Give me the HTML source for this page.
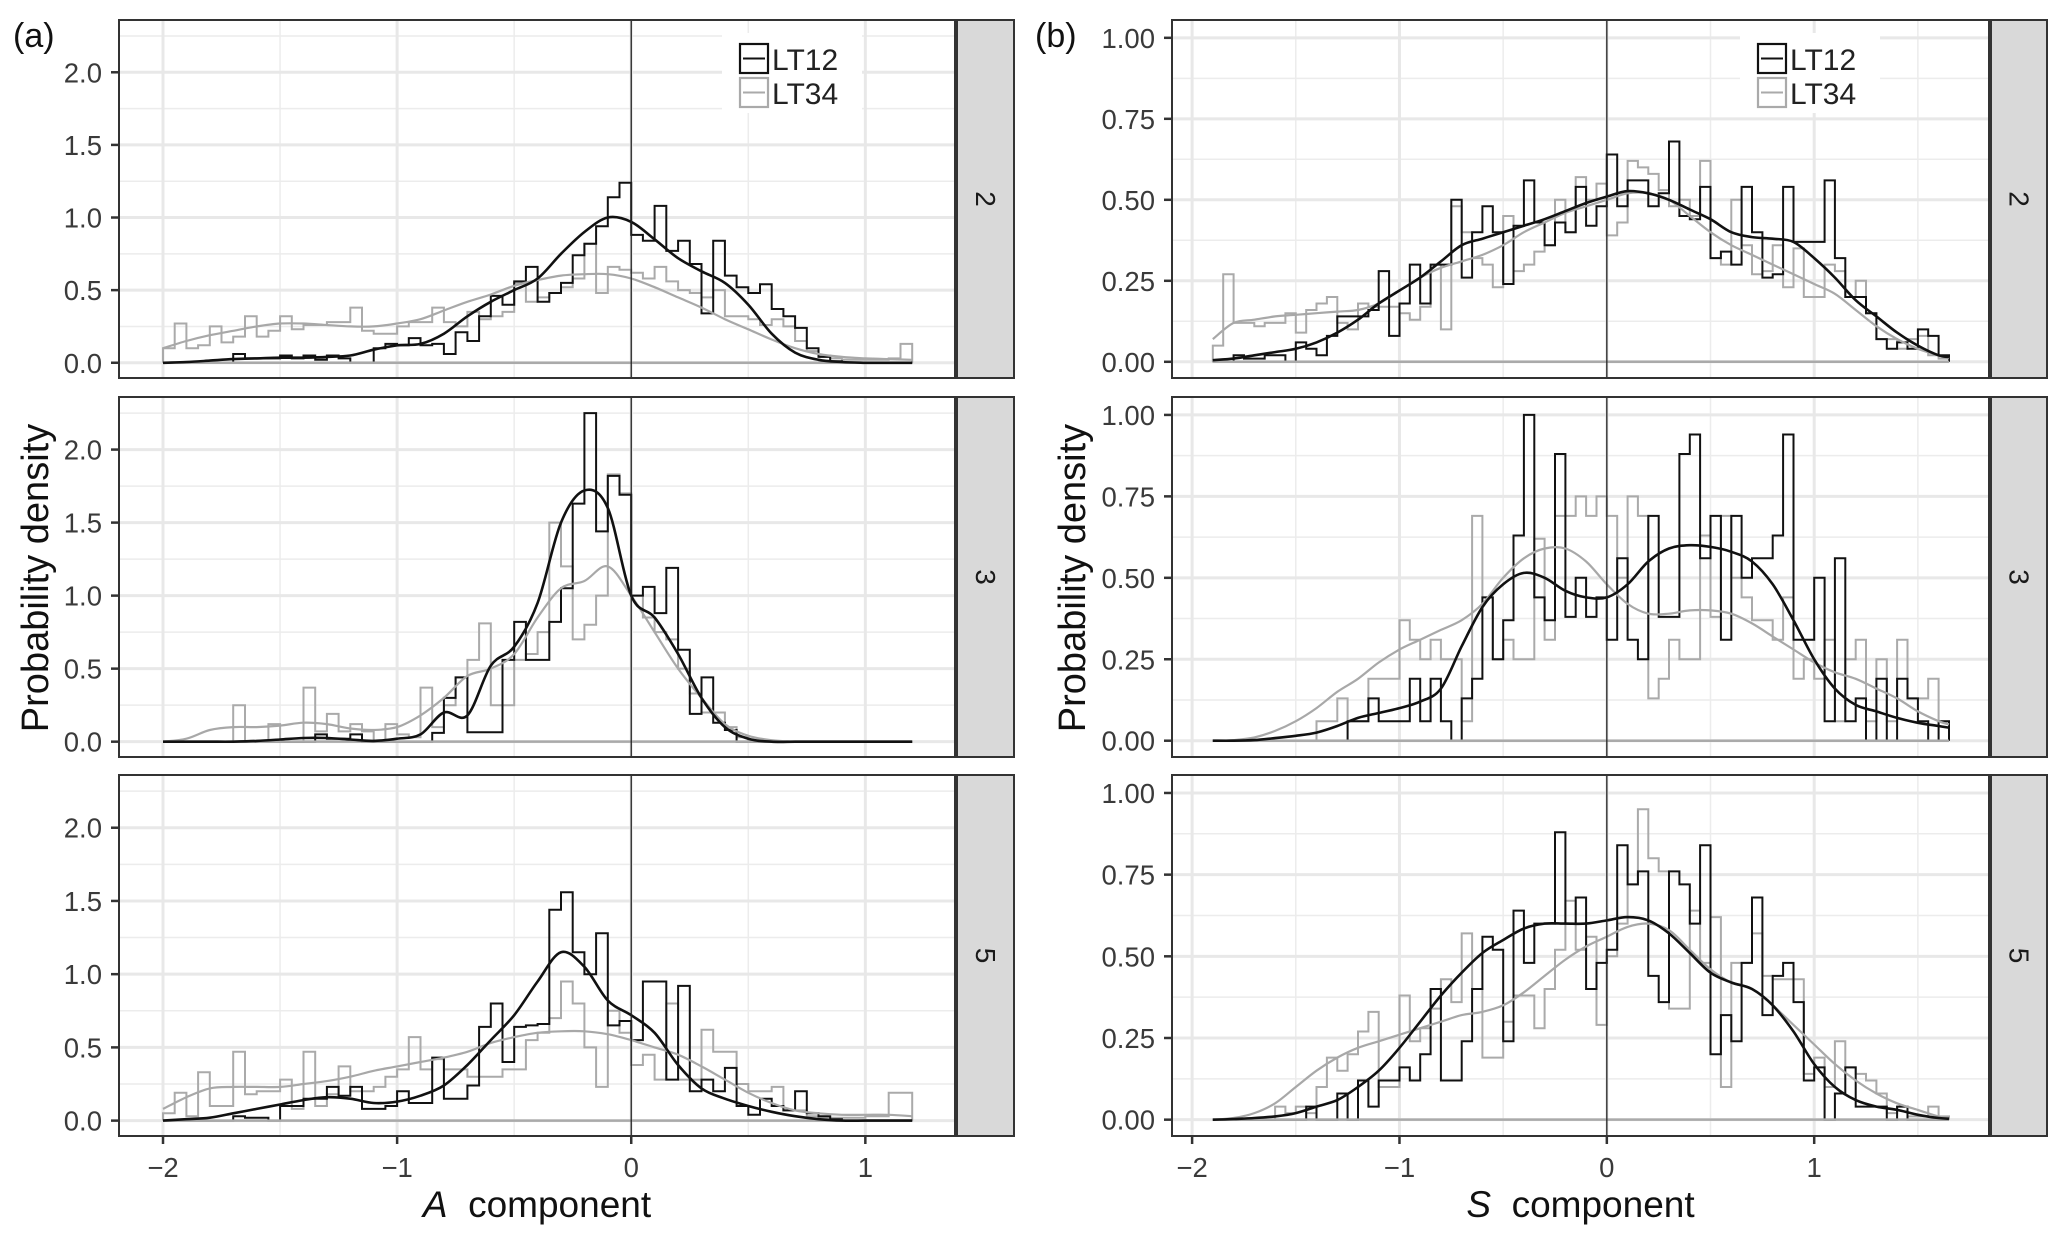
<!DOCTYPE html>
<html><head><meta charset="utf-8"><style>
body{margin:0;background:#fff}
svg{display:block;font-family:"Liberation Sans",Arial,sans-serif}
</style></head><body>
<svg id="chart" width="2067" height="1244" viewBox="0 0 2067 1244" xmlns="http://www.w3.org/2000/svg"></svg>
<script>
// ---- data ----
const aBinStart = -2.0, sBinStart = -1.9, binWidth = 0.05;
const aDensStart = -2.0, aDensStep = 0.1;
const sDensX = [-1.9,-1.8,-1.7,-1.6,-1.5,-1.4,-1.3,-1.2,-1.1,-1.0,-0.9,-0.8,-0.7,-0.6,-0.5,-0.4,-0.3,-0.2,-0.1,0,0.1,0.2,0.3,0.4,0.5,0.6,0.7,0.8,0.9,1.0,1.1,1.2,1.3,1.4,1.5,1.6,1.65];
const facetLabels = ["2","3","5"];
const leftYTicks = [0,0.5,1.0,1.5,2.0];
const leftYTickLabels = ["0.0","0.5","1.0","1.5","2.0"];
const rightYTicks = [0,0.25,0.5,0.75,1.0];
const rightYTickLabels = ["0.00","0.25","0.50","0.75","1.00"];
const xTicks = [-2,-1,0,1];
const xTickLabels = ["\u22122","\u22121","0","1"];

const a2_lt12 = [0,0,0,0,0,0,0.06,0.03,0.03,0.03,0.05,0.03,0.05,0.02,0.05,0.03,0,0,0.1,0.13,0.12,0.17,0.12,0.13,0.06,0.21,0.15,0.32,0.46,0.4,0.56,0.66,0.42,0.48,0.55,0.74,0.82,0.94,1.14,1.24,0.88,0.84,1.08,0.77,0.84,0.68,0.34,0.84,0.6,0.52,0.48,0.54,0.37,0.32,0.24,0.1,0.04,0.01,0,0,0,0,0,0];
const a2_lt34 = [0.1,0.27,0.1,0.12,0.25,0.14,0.18,0.32,0.18,0.22,0.32,0.23,0.26,0.26,0.28,0.28,0.38,0.22,0.2,0.2,0.25,0.28,0.28,0.38,0.28,0.25,0.35,0.3,0.32,0.35,0.55,0.42,0.45,0.48,0.52,0.58,0.82,0.48,0.66,0.64,0.62,0.58,0.66,0.56,0.5,0.48,0.45,0.5,0.32,0.32,0.3,0.26,0.3,0.25,0.15,0.08,0.05,0.03,0.02,0.02,0.02,0.02,0.03,0.13];
const a3_lt12 = [0,0,0,0,0,0,0,0,0,0,0,0,0,0.05,0.02,0.02,0.05,0,0,0,0,0,0,0.06,0.3,0.44,0.065,0.065,0.065,0.56,0.82,0.56,0.56,0.82,1.05,1.63,2.25,1.44,1.82,1.69,1.0,1.06,0.88,1.19,0.63,0.19,0.44,0.13,0.08,0,0,0,0,0,0,0,0,0,0,0,0,0,0,0];
const a3_lt34 = [0,0,0,0,0,0,0.25,0,0,0.12,0,0,0.37,0.07,0.19,0.07,0.12,0.07,0,0.12,0.05,0.03,0.37,0.1,0.25,0.44,0.56,0.81,0.25,0.25,0.56,0.6,0.75,1.5,1.2,0.7,0.8,1.0,1.83,1.7,1.0,0.85,0.75,0.7,0.5,0.33,0.2,0.2,0.1,0.03,0,0,0,0,0,0,0,0,0,0,0,0,0,0];
const a5_lt12 = [0,0,0,0,0,0,0.03,0.02,0.02,0,0.1,0.1,0.15,0.15,0.23,0.17,0.23,0.08,0.08,0.1,0.2,0.12,0.12,0.43,0.15,0.15,0.24,0.64,0.8,0.4,0.64,0.65,0.66,1.44,1.56,1.15,1.0,1.28,0.65,0.68,0.55,0.95,0.95,0.28,0.92,0.2,0.28,0.2,0.36,0.1,0.04,0.15,0.1,0.07,0.2,0.05,0.03,0.01,0,0,0,0,0,0];
const a5_lt34 = [0.05,0.19,0.03,0.33,0.1,0.1,0.47,0.18,0.2,0.2,0.28,0.08,0.47,0.1,0.18,0.37,0.2,0.2,0.23,0.3,0.35,0.57,0.35,0.42,0.35,0.35,0.3,0.3,0.3,0.35,0.35,0.55,0.6,0.7,0.95,0.8,0.5,0.23,0.75,0.6,0.38,0.45,0.28,0.8,0.28,0.28,0.62,0.47,0.47,0.25,0.2,0.2,0.23,0.07,0.07,0.03,0.02,0.02,0.02,0.02,0.03,0.03,0.19,0.19];

const s2_lt12 = [0,0,0.02,0.01,0.01,0.02,0.02,0,0.06,0.04,0.02,0.08,0.14,0.14,0.14,0.16,0.28,0.08,0.18,0.3,0.18,0.3,0.3,0.5,0.26,0.4,0.48,0.4,0.24,0.42,0.56,0.43,0.36,0.43,0.4,0.54,0.42,0.48,0.64,0.48,0.56,0.56,0.48,0.52,0.68,0.45,0.44,0.54,0.32,0.34,0.3,0.54,0.4,0.26,0.27,0.54,0.37,0.37,0.37,0.56,0.32,0.2,0.2,0.15,0.07,0.04,0.06,0.04,0.1,0.08,0.02];
const s2_lt34 = [0.05,0.27,0.12,0.12,0.11,0.12,0.12,0.15,0.09,0.16,0.18,0.2,0.12,0.1,0.18,0.17,0.17,0.17,0.15,0.13,0.17,0.3,0.1,0.48,0.4,0.32,0.3,0.23,0.45,0.28,0.3,0.34,0.36,0.5,0.4,0.57,0.5,0.55,0.39,0.43,0.62,0.6,0.58,0.53,0.48,0.5,0.45,0.62,0.32,0.3,0.5,0.36,0.27,0.28,0.36,0.23,0.35,0.2,0.2,0.3,0.28,0.2,0.25,0.15,0.07,0.07,0.04,0.07,0.08,0.02,0.01];
const s3_lt12 = [0,0,0,0,0,0,0,0,0,0,0,0,0,0.06,0.06,0.13,0.06,0.06,0.06,0.19,0.06,0.19,0.06,0,0.13,0.19,0.44,0.25,0.37,0.63,1.0,0.44,0.37,0.88,0.38,0.5,0.38,0.44,0.31,0.56,0.31,0.25,0.69,0.38,0.38,0.88,0.94,0.56,0.69,0.31,0.69,0.5,0.56,0.56,0.63,0.94,0.31,0.31,0.5,0.06,0.56,0.06,0.13,0,0.19,0,0.19,0.13,0.06,0,0.06];
const s3_lt34 = [0,0,0,0,0,0,0,0,0,0,0.06,0.06,0.13,0.06,0.06,0.19,0.19,0.19,0.37,0.31,0.25,0.31,0.25,0.25,0.06,0.69,0.44,0.25,0.31,0.25,0.25,0.62,0.31,0.69,0.69,0.75,0.69,0.75,0.69,0.5,0.75,0.69,0.13,0.19,0.31,0.25,0.25,0.63,0.38,0.69,0.5,0.44,0.37,0.37,0.31,0.44,0.19,0.25,0.19,0.31,0.06,0.25,0.31,0.06,0.25,0.06,0.31,0.13,0.13,0.19,0.06];
const s5_lt12 = [0,0,0,0,0,0,0,0,0,0.04,0,0,0.08,0,0.12,0.04,0.12,0.12,0.16,0.12,0.2,0.4,0.12,0.12,0.24,0.4,0.56,0.52,0.24,0.64,0.48,0.6,0.6,0.88,0.6,0.68,0.4,0.48,0.52,0.84,0.72,0.76,0.44,0.36,0.76,0.72,0.6,0.84,0.2,0.32,0.24,0.48,0.68,0.32,0.44,0.48,0.36,0.12,0.16,0,0.08,0.16,0.04,0.04,0.04,0,0.04,0,0,0,0];
const s5_lt34 = [0,0,0,0,0,0,0.04,0.02,0.04,0.02,0.1,0.19,0.15,0.2,0.27,0.33,0.1,0.1,0.38,0.24,0.28,0.34,0.43,0.36,0.57,0.4,0.19,0.19,0.3,0.38,0.38,0.28,0.4,0.52,0.67,0.52,0.56,0.29,0.5,0.6,0.72,0.95,0.8,0.76,0.34,0.34,0.64,0.48,0.62,0.1,0.48,0.48,0.57,0.44,0.43,0.43,0.43,0.14,0.19,0.1,0.24,0.16,0.14,0.12,0.08,0.02,0.04,0.01,0.01,0.04,0.01];

const a2_d12 = [0,0.005,0.015,0.025,0.03,0.035,0.035,0.04,0.05,0.09,0.12,0.13,0.2,0.32,0.42,0.5,0.58,0.75,0.9,1.0,0.97,0.85,0.72,0.63,0.55,0.4,0.2,0.07,0.02,0.005,0,0,0];
const a2_d34 = [0.1,0.15,0.19,0.22,0.25,0.27,0.27,0.26,0.25,0.25,0.27,0.3,0.36,0.42,0.47,0.53,0.57,0.6,0.61,0.61,0.58,0.52,0.45,0.38,0.3,0.23,0.16,0.1,0.06,0.04,0.03,0.025,0.02];
const a3_d12 = [0,0,0,0,0.005,0.015,0.025,0.025,0.015,0.005,0.02,0.05,0.2,0.18,0.52,0.65,0.95,1.5,1.72,1.6,1.0,0.85,0.6,0.3,0.1,0.02,0,0,0,0,0,0,0];
const a3_d34 = [0,0.02,0.08,0.1,0.1,0.11,0.13,0.12,0.09,0.08,0.1,0.18,0.3,0.45,0.5,0.6,0.85,1.05,1.1,1.2,1.0,0.75,0.5,0.3,0.12,0.04,0.01,0,0,0,0,0,0];
const a5_d12 = [0,0.01,0.02,0.05,0.08,0.11,0.14,0.16,0.15,0.12,0.13,0.17,0.24,0.38,0.55,0.72,0.95,1.15,1.05,0.82,0.72,0.6,0.38,0.22,0.15,0.1,0.06,0.03,0.01,0,0,0,0];
const a5_d34 = [0.08,0.16,0.22,0.23,0.23,0.23,0.25,0.27,0.3,0.34,0.37,0.4,0.43,0.47,0.53,0.57,0.6,0.61,0.61,0.59,0.55,0.5,0.45,0.37,0.28,0.19,0.12,0.07,0.05,0.04,0.04,0.04,0.03];

const s2_d12 = [0.005,0.01,0.02,0.03,0.04,0.06,0.09,0.13,0.18,0.22,0.26,0.31,0.36,0.38,0.4,0.42,0.44,0.465,0.49,0.51,0.527,0.52,0.5,0.47,0.44,0.4,0.385,0.38,0.37,0.32,0.26,0.19,0.14,0.09,0.05,0.02,0.015];
const s2_d34 = [0.07,0.12,0.13,0.14,0.145,0.15,0.155,0.16,0.18,0.22,0.26,0.29,0.31,0.33,0.36,0.4,0.43,0.46,0.48,0.5,0.52,0.52,0.5,0.45,0.4,0.36,0.33,0.3,0.27,0.24,0.21,0.16,0.11,0.07,0.04,0.02,0.01];
const s3_d12 = [0,0,0.002,0.008,0.015,0.025,0.045,0.07,0.085,0.1,0.12,0.16,0.29,0.41,0.48,0.515,0.5,0.46,0.44,0.44,0.48,0.55,0.59,0.6,0.595,0.58,0.55,0.48,0.37,0.25,0.16,0.11,0.09,0.07,0.055,0.045,0.04];
const s3_d34 = [0,0.002,0.01,0.03,0.06,0.1,0.15,0.19,0.24,0.28,0.31,0.34,0.37,0.42,0.5,0.56,0.59,0.59,0.55,0.48,0.42,0.39,0.39,0.4,0.4,0.39,0.36,0.32,0.28,0.24,0.21,0.19,0.16,0.13,0.09,0.06,0.05];
const s5_d12 = [0,0.002,0.005,0.01,0.02,0.04,0.06,0.1,0.15,0.22,0.3,0.38,0.45,0.51,0.55,0.585,0.6,0.6,0.6,0.61,0.62,0.61,0.57,0.51,0.45,0.42,0.4,0.35,0.27,0.17,0.1,0.06,0.04,0.03,0.015,0.005,0.003];
const s5_d34 = [0,0.005,0.02,0.05,0.1,0.15,0.19,0.22,0.24,0.26,0.28,0.3,0.32,0.33,0.35,0.39,0.44,0.49,0.53,0.56,0.59,0.6,0.58,0.52,0.46,0.42,0.4,0.35,0.29,0.23,0.17,0.12,0.08,0.05,0.03,0.01,0.008];

// ---- layout ----
const NS = "http://www.w3.org/2000/svg";
const svg = document.getElementById('chart');
function el(tag, attrs, parent, text){
  const e = document.createElementNS(NS, tag);
  for (const k in attrs) e.setAttribute(k, attrs[k]);
  if (text !== undefined) e.textContent = text;
  (parent || svg).appendChild(e);
  return e;
}
const rows = [[20,378],[397,757],[775,1136]];
const cols = [
  {left:119, right:955, stripR:1014, xmin:-2.188, xmax:1.383, ymin:-0.105, ymax:2.36,
   yt:leftYTicks, ytl:leftYTickLabels, binStart:aBinStart, name:'a',
   hist:[[a2_lt12,a2_lt34],[a3_lt12,a3_lt34],[a5_lt12,a5_lt34]],
   dens:[[a2_d12,a2_d34],[a3_d12,a3_d34],[a5_d12,a5_d34]]},
  {left:1172, right:1989, stripR:2047, xmin:-2.097, xmax:1.843, ymin:-0.05, ymax:1.055,
   yt:rightYTicks, ytl:rightYTickLabels, binStart:sBinStart, name:'s',
   hist:[[s2_lt12,s2_lt34],[s3_lt12,s3_lt34],[s5_lt12,s5_lt34]],
   dens:[[s2_d12,s2_d34],[s3_d12,s3_d34],[s5_d12,s5_d34]]}
];
const BLACK = '#111', GRAY = '#aaaaaa';

function smooth(pts){
  let d = 'M'+pts[0][0].toFixed(1)+','+pts[0][1].toFixed(1);
  for (let i=0;i<pts.length-1;i++){
    const p0=pts[Math.max(0,i-1)], p1=pts[i], p2=pts[i+1], p3=pts[Math.min(pts.length-1,i+2)];
    const c1=[p1[0]+(p2[0]-p0[0])/6, p1[1]+(p2[1]-p0[1])/6];
    const c2=[p2[0]-(p3[0]-p1[0])/6, p2[1]-(p3[1]-p1[1])/6];
    d+=' C'+c1[0].toFixed(1)+','+c1[1].toFixed(1)+' '+c2[0].toFixed(1)+','+c2[1].toFixed(1)+' '+p2[0].toFixed(1)+','+p2[1].toFixed(1);
  }
  return d;
}

cols.forEach((c, ci) => {
  const sx = v => c.left + (v - c.xmin) / (c.xmax - c.xmin) * (c.right - c.left);
  rows.forEach((r, ri) => {
    const top = r[0], bot = r[1];
    const sy = v => bot - (v - c.ymin) / (c.ymax - c.ymin) * (bot - top);
    const g = el('g', {});
    
    
    el('rect', {x:c.left, y:top, width:c.right-c.left, height:bot-top, fill:'#fff'}, g);
    const ystep = c.yt[1]-c.yt[0];
    for (let v = c.yt[0]-ystep/2; v <= c.ymax; v += ystep){
      if (v < c.ymin) continue;
      el('line',{x1:c.left,x2:c.right,y1:sy(v),y2:sy(v),stroke:'#ececec','stroke-width':1.5},g);
    }
    for (let v = -2.5; v <= c.xmax; v += 1){
      if (v < c.xmin) continue;
      el('line',{x1:sx(v),x2:sx(v),y1:top,y2:bot,stroke:'#ececec','stroke-width':1.5},g);
    }
    c.yt.forEach(v => el('line',{x1:c.left,x2:c.right,y1:sy(v),y2:sy(v),stroke:'#e8e8e8','stroke-width':3},g));
    xTicks.forEach(v => el('line',{x1:sx(v),x2:sx(v),y1:top,y2:bot,stroke:'#e8e8e8','stroke-width':3},g));
    if (ri === 0){
      const lx = ci===0 ? 722 : 1740;
      el('rect',{x:lx,y:33,width:140,height:80,fill:'#fff'},g);
    }
    [1,0].forEach(si => {
      const h = c.hist[ri][si];
      const col = si===0 ? BLACK : GRAY;
      let d = 'M'+sx(c.binStart).toFixed(1)+','+sy(0).toFixed(1);
      h.forEach((v,i) => {
        d += ' V'+sy(v).toFixed(1)+' H'+sx(c.binStart+(i+1)*binWidth).toFixed(1);
      });
      d += ' V'+sy(0).toFixed(1);
      const p = el('path',{d:d,fill:'none',stroke:col,'stroke-width':2},g);
      
      
    });
    const endX = c.binStart + c.hist[ri][0].length*binWidth;
    el('line',{x1:sx(c.binStart),x2:sx(endX),y1:sy(0),y2:sy(0),stroke:GRAY,'stroke-width':2.5},g);
    [1,0].forEach(si => {
      const dv = c.dens[ri][si];
      const pts = dv.map((v,i) => [sx(ci===0 ? aDensStart + i*aDensStep : sDensX[i]), sy(v)]);
      const p = el('path',{d:smooth(pts),fill:'none',stroke:si===0?BLACK:'#a8a8a8','stroke-width':si===0?2.6:2.2},g);
      
      
    });
    el('line',{x1:sx(0),x2:sx(0),y1:top,y2:bot,stroke:'#222','stroke-width':1.3},g);
    el('rect',{x:c.left,y:top,width:c.right-c.left,height:bot-top,fill:'none',stroke:'#333','stroke-width':2},g);
    const st = el('rect',{x:c.right+2,y:top,width:c.stripR-c.right-2,height:bot-top,fill:'#d9d9d9',stroke:'#333','stroke-width':2},g);
    
    
    const cx = (c.right+2+c.stripR)/2, cy=(top+bot)/2;
    const t = el('text',{x:cx,y:cy,'font-size':28,fill:'#1a1a1a','text-anchor':'middle','dominant-baseline':'central',transform:'rotate(90 '+cx+' '+cy+')'},g,facetLabels[ri]);
    
    
    c.yt.forEach((v,i) => {
      el('line',{x1:c.left-8,x2:c.left,y1:sy(v),y2:sy(v),stroke:'#333','stroke-width':2.5},g);
      const tl = el('text',{x:c.left-17,y:sy(v)+10,'font-size':27.5,fill:'#3a3a3a','text-anchor':'end'},g,c.ytl[i]);
      
      
    });
    if (ri === 2){
      xTicks.forEach((v,i) => {
        el('line',{x1:sx(v),x2:sx(v),y1:bot,y2:bot+8,stroke:'#333','stroke-width':2.5},g);
        const tl = el('text',{x:sx(v),y:1177,'font-size':27.5,fill:'#3a3a3a','text-anchor':'middle'},g,xTickLabels[i]);
        
        
      });
    }
  });
  const lx = ci===0 ? 740 : 1758;
  const lg = el('g',{});
  
  
  [['LT12',BLACK,44],['LT34',GRAY,78]].forEach(([lab,col,y]) => {
    el('rect',{x:lx,y:y,width:28,height:29,fill:'#fff',stroke:col,'stroke-width':2.2},lg);
    el('line',{x1:lx+3,x2:lx+25,y1:y+14.5,y2:y+14.5,stroke:col,'stroke-width':2},lg);
    const t = el('text',{x:lx+32,y:y+26,'font-size':30,fill:'#222'},lg,lab);
    
    
  });
  const xc = (c.left+c.right)/2;
  const xt = el('text',{x:xc,y:1217,'font-size':37,fill:'#111','text-anchor':'middle'});
  
  
  el('tspan',{'font-style':'italic'},xt, ci===0?'A':'S');
  el('tspan',{},xt,'\u00a0 component');
  const yx = ci===0 ? 36 : 1073;
  const yt = el('text',{x:yx,y:578,'font-size':38,fill:'#111','text-anchor':'middle',transform:'rotate(-90 '+yx+' 578)','dominant-baseline':'central'},svg,'Probability density');
  
  
  const pl = el('text',{x:ci===0?13:1035,y:47,'font-size':34,fill:'#111'},svg,ci===0?'(a)':'(b)');
  
  
});
</script>
</body></html>
